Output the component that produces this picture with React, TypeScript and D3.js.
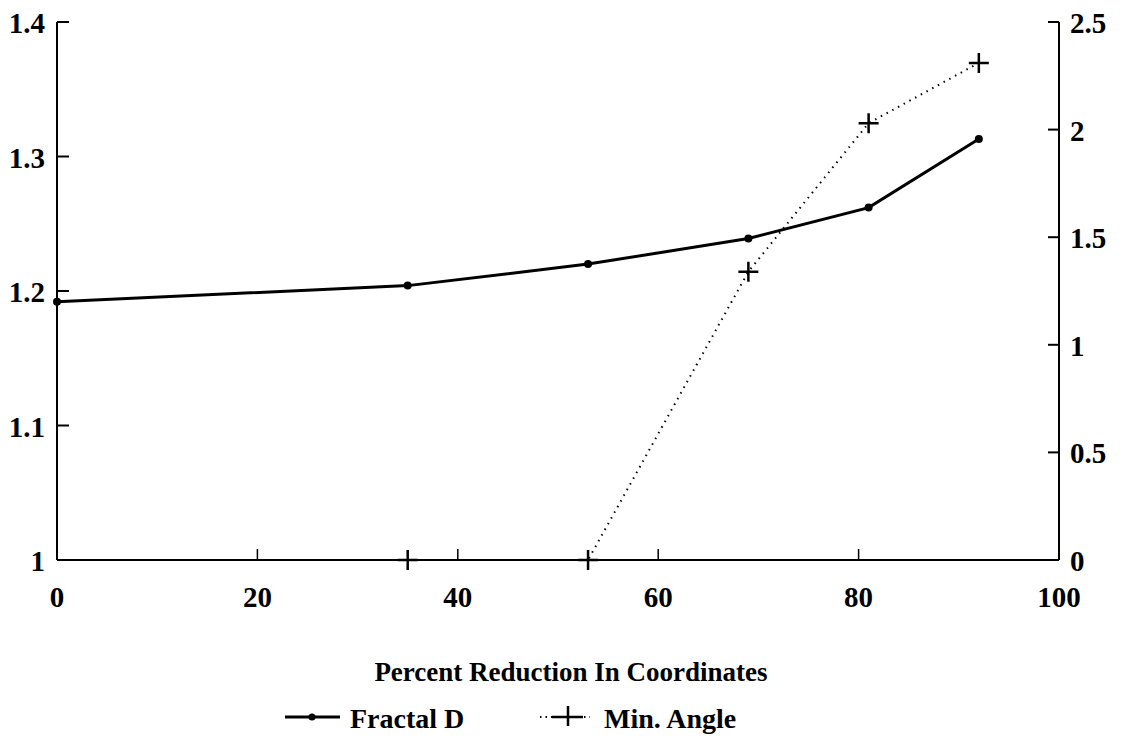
import React, { useEffect, useRef } from "react";
import * as d3 from "d3";

// percent reduction in coordinates
const reductions = [0, 35, 53, 69, 81, 92];
const fractalD = [1.192, 1.204, 1.220, 1.239, 1.262, 1.313];
const minAngle = [0, 0, 0, 1.34, 2.03, 2.31];

const xTicks = [0, 20, 40, 60, 80, 100];
const leftTicks = [1, 1.1, 1.2, 1.3, 1.4];
const rightTicks = [0, 0.5, 1, 1.5, 2, 2.5];

export default function App() {
  const ref = useRef<SVGSVGElement>(null);

  useEffect(() => {
    const svg = d3.select(ref.current);
    svg.selectAll("*").remove();

    const left = 57, right = 1059, top = 22, bottom = 560;
    const font = "'Liberation Serif', 'Times New Roman', serif";

    const x = d3.scaleLinear().domain([0, 100]).range([left, right]);
    const yL = d3.scaleLinear().domain([1, 1.4]).range([bottom, top]);
    const yR = d3.scaleLinear().domain([0, 2.5]).range([bottom, top]);

    const g = svg.append("g");

    // axes lines
    g.append("line").attr("x1", left).attr("x2", left).attr("y1", top).attr("y2", bottom)
      .attr("stroke", "#000").attr("stroke-width", 2);
    g.append("line").attr("x1", right).attr("x2", right).attr("y1", top).attr("y2", bottom)
      .attr("stroke", "#000").attr("stroke-width", 2);
    g.append("line").attr("x1", left).attr("x2", right).attr("y1", bottom).attr("y2", bottom)
      .attr("stroke", "#000").attr("stroke-width", 2);

    // left ticks
    leftTicks.forEach((t) => {
      g.append("line").attr("x1", left).attr("x2", left + 12)
        .attr("y1", yL(t)).attr("y2", yL(t)).attr("stroke", "#000").attr("stroke-width", 2);
      g.append("text").attr("x", left - 12).attr("y", yL(t) + 11)
        .attr("text-anchor", "end").attr("font-family", font).attr("font-weight", "bold")
        .attr("font-size", 29).text(d3.format("")(t));
    });

    // right ticks
    rightTicks.forEach((t) => {
      g.append("line").attr("x1", right - 11).attr("x2", right)
        .attr("y1", yR(t)).attr("y2", yR(t)).attr("stroke", "#000").attr("stroke-width", 2);
      g.append("text").attr("x", right + 11).attr("y", yR(t) + 11)
        .attr("text-anchor", "start").attr("font-family", font).attr("font-weight", "bold")
        .attr("font-size", 29).text(d3.format("")(t));
    });

    // x ticks
    xTicks.forEach((t) => {
      g.append("line").attr("x1", x(t)).attr("x2", x(t))
        .attr("y1", bottom).attr("y2", bottom - 11).attr("stroke", "#000").attr("stroke-width", 1.5);
      g.append("text").attr("x", x(t)).attr("y", bottom + 47)
        .attr("text-anchor", "middle").attr("font-family", font).attr("font-weight", "bold")
        .attr("font-size", 29).text(t);
    });

    g.append("text").attr("x", 571).attr("y", 681)
      .attr("text-anchor", "middle").attr("font-family", font).attr("font-weight", "bold")
      .attr("font-size", 27).text("Percent Reduction In Coordinates");

    const fdData = reductions.map((r, i) => [r, fractalD[i]] as [number, number]);
    const maData = reductions.map((r, i) => [r, minAngle[i]] as [number, number]);

    // Min. Angle (dotted)
    const maLine = d3.line<[number, number]>().x((d) => x(d[0])).y((d) => yR(d[1]));
    g.append("path").attr("d", maLine(maData)).attr("fill", "none")
      .attr("stroke", "#000").attr("stroke-width", 2).attr("stroke-dasharray", "1.5,5");
    g.selectAll(".plus").data(maData.slice(1)).enter().append("path")
      .attr("d", (d) => {
        const cx = x(d[0]), cy = yR(d[1]);
        return `M${cx - 10},${cy}H${cx + 10}M${cx},${cy - 10}V${cy + 10}`;
      })
      .attr("stroke", "#000").attr("stroke-width", 2.5);

    // Fractal D (solid)
    const fdLine = d3.line<[number, number]>().x((d) => x(d[0])).y((d) => yL(d[1]));
    g.append("path").attr("d", fdLine(fdData)).attr("fill", "none")
      .attr("stroke", "#000").attr("stroke-width", 3);
    g.selectAll(".dot").data(fdData).enter().append("circle")
      .attr("cx", (d) => x(d[0])).attr("cy", (d) => yL(d[1])).attr("r", 4).attr("fill", "#000");

    // legend
    const ly = 717;
    g.append("line").attr("x1", 285).attr("x2", 340).attr("y1", ly).attr("y2", ly)
      .attr("stroke", "#000").attr("stroke-width", 3);
    g.append("circle").attr("cx", 312).attr("cy", ly).attr("r", 3.5).attr("fill", "#000");
    g.append("text").attr("x", 350).attr("y", 728).attr("font-family", font)
      .attr("font-weight", "bold").attr("font-size", 28).text("Fractal D");

    g.append("line").attr("x1", 540).attr("x2", 590).attr("y1", ly).attr("y2", ly)
      .attr("stroke", "#000").attr("stroke-width", 2).attr("stroke-dasharray", "1.5,4");
    g.append("path").attr("d", `M552,${ly}H583M568,${ly - 11}V${ly + 9}`)
      .attr("stroke", "#000").attr("stroke-width", 2.5);
    g.append("text").attr("x", 604).attr("y", 728).attr("font-family", font)
      .attr("font-weight", "bold").attr("font-size", 28).text("Min. Angle");
  }, []);

  return (
    <div style={{ position: "absolute", left: 0, top: 0 }}>
      <svg ref={ref} width={1121} height={744} style={{ display: "block", background: "#fff" }} />
    </div>
  );
}
